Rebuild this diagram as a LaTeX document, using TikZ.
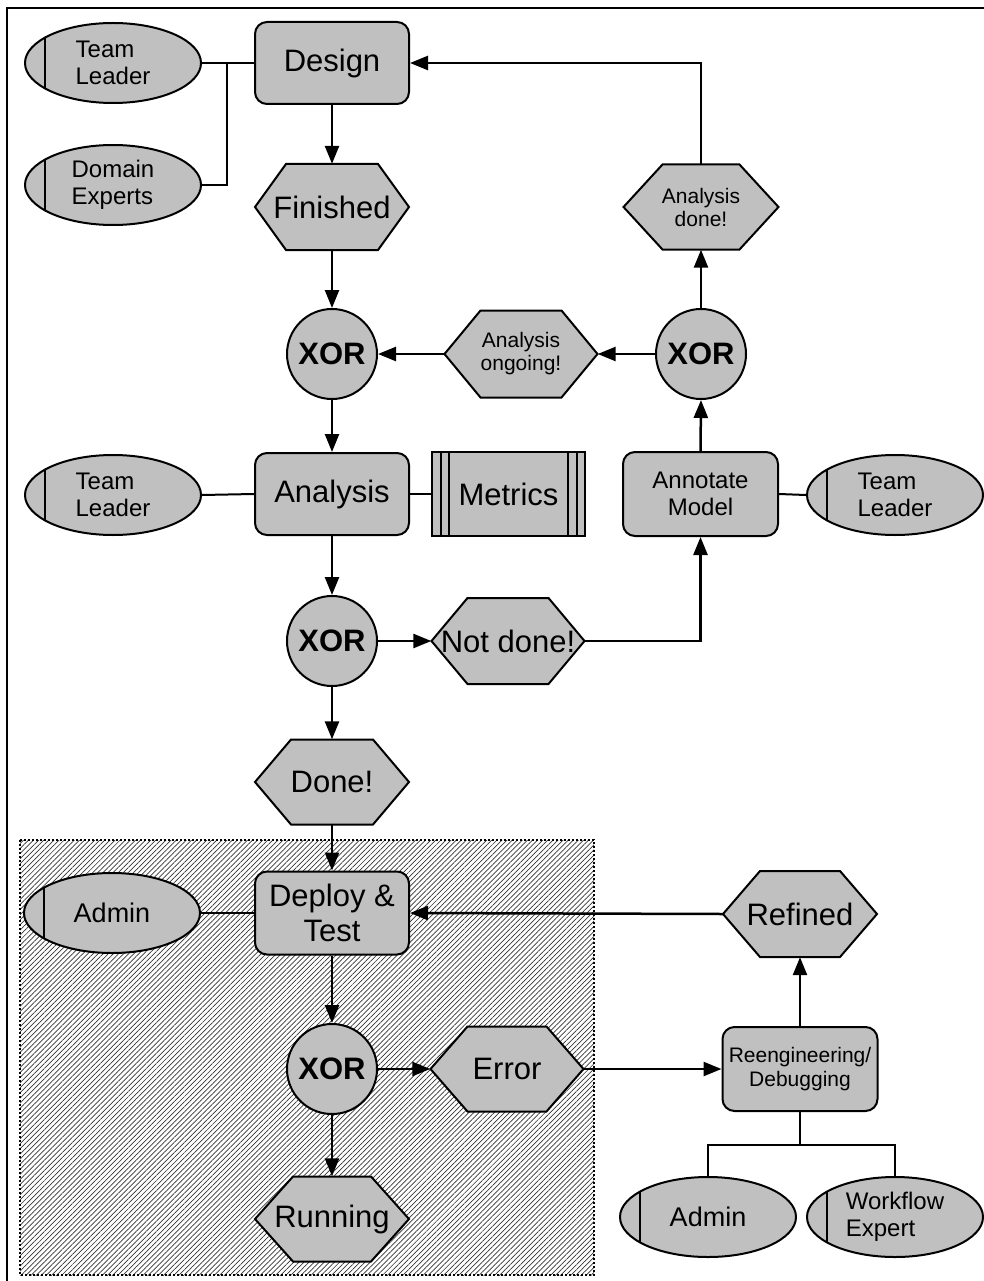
\documentclass[tikz,border=0pt]{standalone}
\usepackage{fontspec}
\setmainfont{Liberation Sans}
\usetikzlibrary{shapes.geometric,arrows.meta,patterns.meta,calc}
\definecolor{gfill}{RGB}{192,192,192}
\newcommand\fsz[2]{\fontsize{#1}{#2}\selectfont}
\newcommand\hexnode[8][]{%
  \pgfmathsetmacro\hxL{#3-#5/2}\pgfmathsetmacro\hxR{#3+#5/2}%
  \pgfmathsetmacro\hxT{#4-#6/2}\pgfmathsetmacro\hxB{#4+#6/2}%
  \pgfmathsetmacro\hxIL{\hxL+#7}\pgfmathsetmacro\hxIR{\hxR-#7}%
  \path[hexshape] (\hxL,#4) -- (\hxIL,\hxT) -- (\hxIR,\hxT) -- (\hxR,#4) -- (\hxIR,\hxB) -- (\hxIL,\hxB) -- cycle;
  \node[hexlabel, minimum width=#5pt, minimum height=#6pt, #1] (#2) at (#3,#4) {#8};
}
\tikzset{
  hexshape/.style={fill=gfill, draw=black, line width=2pt, line join=miter},
  hexlabel/.style={inner sep=0pt, align=center, font=\fsz{31}{35}},
  procbox/.style={rectangle, rounded corners=12pt, fill=gfill, draw=black, line width=2pt,
    inner sep=0pt, align=center, font=\fsz{31}{35}},
  actor/.style={ellipse, fill=gfill, draw=black, line width=2pt, inner sep=0pt,
    minimum width=176pt, minimum height=80pt, align=left, font=\fsz{24}{27},
    path picture={\draw[line width=2pt] ([xshift=20pt]path picture bounding box.south west) -- ([xshift=20pt]path picture bounding box.north west);}},
  xorgate/.style={circle, fill=gfill, draw=black, line width=2pt, inner sep=0pt,
    minimum size=90pt, font=\bfseries\fsz{31}{35}},
  databox/.style={rectangle, fill=gfill, draw=black, line width=2pt, inner sep=0pt,
    minimum width=153pt, minimum height=84pt, font=\fsz{31}{35},
    path picture={
      \draw[line width=2pt] ([xshift=9pt]path picture bounding box.south west) -- ([xshift=9pt]path picture bounding box.north west);
      \draw[line width=2pt] ([xshift=17pt]path picture bounding box.south west) -- ([xshift=17pt]path picture bounding box.north west);
      \draw[line width=2pt] ([xshift=-8pt]path picture bounding box.south east) -- ([xshift=-8pt]path picture bounding box.north east);
      \draw[line width=2pt] ([xshift=-17pt]path picture bounding box.south east) -- ([xshift=-17pt]path picture bounding box.north east);}},
  arr/.style={line width=2.5pt, -{Triangle[length=18pt,width=14pt]}},
  plain/.style={line width=2pt},
}
\begin{document}
\begin{tikzpicture}[x=1pt,y=-1pt]
\useasboundingbox (0,0) rectangle (984,1281);
% frame
\draw[line width=2pt] (7,1281) -- (7,8.5) -- (984,8.5);
% hatched region
\path[pattern={Lines[angle=45,distance=3.6pt,line width=0.7pt]}, pattern color=black!80]
  (20,840) rectangle (594,1275);
\draw[line width=2.2pt, dash pattern=on 2pt off 2pt] (20,840) rectangle (594,1275);

% nodes
\node[actor] (tl1) at (113,63) {Team\\Leader};
\node[actor] (dexp) at (113,185) {Domain\\Experts};
\node[procbox, minimum width=154pt, minimum height=82pt] (design) at (332,63) {Design};
\hexnode{fin}{332}{207}{154}{86}{31}{Finished}
\node[xorgate] (xor1) at (332,354) {XOR};
\hexnode[font=\fsz{21}{23}]{ongo}{521}{354}{153}{87}{36}{Analysis\\ongoing!}
\node[xorgate] (xor2) at (701,354) {XOR};
\hexnode[font=\fsz{21}{23}]{adone}{701}{207}{155}{85}{39}{Analysis\\done!}
\node[actor] (tl2) at (113,495) {Team\\Leader};
\node[procbox, minimum width=154pt, minimum height=82pt] (analysis) at (332,494) {Analysis};
\node[databox] (metrics) at (508.5,494) {Metrics};
\node[procbox, minimum width=155pt, minimum height=84pt, font=\fsz{24}{27}] (annot) at (700.5,494) {Annotate\\Model};
\node[actor] (tl3) at (895,495) {Team\\Leader};
\node[xorgate] (xor3) at (332,641) {XOR};
\hexnode{notdone}{508}{641}{153}{86}{36}{Not done!}
\hexnode{done}{332}{782}{154}{85}{36}{Done!}
\node[procbox, minimum width=154pt, minimum height=83pt] (deploy) at (332,913) {Deploy \&\\Test};
\node[actor, font=\fsz{27}{30}] (admin) at (112,913) {Admin};
\hexnode{refined}{800}{914}{154}{86}{37}{Refined}
\node[xorgate] (xor4) at (332,1069) {XOR};
\hexnode{error}{507}{1069}{153}{85}{37}{Error}
\node[procbox, minimum width=155pt, minimum height=84pt, font=\fsz{21}{24}] (reeng) at (800,1069) {Reengineering/\\Debugging};
\hexnode{running}{332}{1219}{154}{85}{38}{Running}
\node[actor, font=\fsz{27}{30}] (admin2) at (708,1217) {Admin};
\node[actor] (wfe) at (895,1217) {Workflow\\Expert};

% connectors
\coordinate (j1) at (227,63);
\coordinate (j2) at (800,1145);
\draw[plain] (tl1.east) -- (design.west);
\draw[plain] (dexp.east) -| (j1);
\draw[arr] (design.south) -- (fin.north);
\draw[arr] (fin.south) -- (xor1.north);
\draw[arr] (xor2.west) -- (ongo.east);
\draw[arr] (ongo.west) -- (xor1.east);
\draw[arr] (xor2.north) -- (adone.south);
\draw[arr] (adone.north) |- (design.east);
\draw[arr] (xor1.south) -- (analysis.north);
\draw[plain] (tl2.east) -- (analysis.west);
\draw[plain] (analysis.east) -- (metrics.west);
\draw[plain] (annot.east) -- (tl3.west);
\draw[arr] (annot.north) -- (xor2.south);
\draw[arr] (analysis.south) -- (xor3.north);
\draw[arr] (xor3.east) -- (notdone.west);
\draw[arr] (notdone.east) -| (annot.south);
\draw[arr] (xor3.south) -- (done.north);
\draw[arr] (done.south) -- (deploy.north);
\draw[plain] (admin.east) -- (deploy.west);
\draw[arr] (refined.west) -- (deploy.east);
\draw[arr] (deploy.south) -- (xor4.north);
\draw[arr] (xor4.east) -- (error.west);
\draw[arr] (error.east) -- (reeng.west);
\draw[arr] (reeng.north) -- (refined.south);
\draw[arr] (xor4.south) -- (running.north);
\draw[plain] (reeng.south) -- (j2);
\draw[plain] (admin2.north) |- (j2) -| (wfe.north);
\end{tikzpicture}
\end{document}
